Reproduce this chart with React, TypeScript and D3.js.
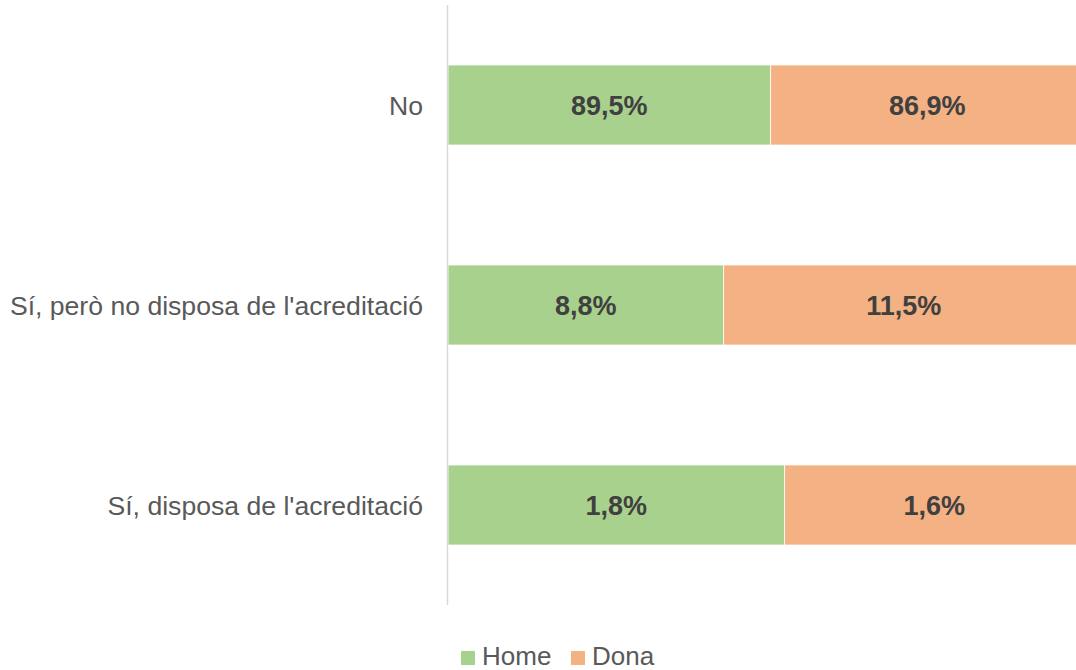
import React from "react";
import * as d3 from "d3";

const categories = ["No", "Sí, però no disposa de l'acreditació", "Sí, disposa de l'acreditació"];
const seriesNames = ["Home", "Dona"];
const homeValues = [89.5, 8.8, 1.8];
const donaValues = [86.9, 11.5, 1.6];
const colors = ["#A9D18E", "#F4B183"];

const W = 1076;
const H = 670;

export default function App() {
  const x = d3.scaleLinear().domain([0, 1]).range([448, 1084]);
  const y = d3.scaleBand<string>().domain(categories).range([5, 605]).paddingInner(0.6).paddingOuter(0.3);
  const fmt = (v: number) => v.toFixed(1).replace(".", ",") + "%";

  const rows = categories.map((c, i) => {
    const total = homeValues[i] + donaValues[i];
    const vals = [homeValues[i], donaValues[i]];
    let acc = 0;
    const segs = vals.map((v, j) => {
      const x0 = acc / total;
      acc += v;
      const x1 = acc / total;
      return { v, j, x0, x1 };
    });
    return { c, segs };
  });

  return (
    <svg width={W} height={H} style={{ position: "absolute", left: 0, top: 0, background: "#fff" }} fontFamily="'Liberation Sans', Arial, sans-serif">
      {rows.map((r) => (
        <g key={r.c}>
          {r.segs.map((s) => (
            <rect
              key={s.j}
              x={x(s.x0)}
              y={y(r.c)!}
              width={x(s.x1) - x(s.x0)}
              height={y.bandwidth()}
              fill={colors[s.j]}
              stroke="#ffffff"
              strokeWidth={0.75}
            />
          ))}
          {r.segs.map((s) => (
            <text
              key={"t" + s.j}
              x={(x(s.x0) + x(s.x1)) / 2}
              y={y(r.c)! + y.bandwidth() / 2}
              dy="0.36em"
              textAnchor="middle"
              fontSize={27}
              fontWeight="bold"
              fill="#404040"
            >
              {fmt(s.v)}
            </text>
          ))}
          <text
            x={423}
            y={y(r.c)! + y.bandwidth() / 2}
            dy="0.36em"
            textAnchor="end"
            fontSize={26.6}
            fill="#595959"
          >
            {r.c}
          </text>
        </g>
      ))}
      <line x1={447.5} x2={447.5} y1={5} y2={605} stroke="#d9d9d9" strokeWidth={1.5} />
      {seriesNames.map((n, i) => {
        const lx = [461, 571][i];
        return (
          <g key={n}>
            <rect x={lx} y={651} width={14} height={14} fill={colors[i]} />
            <text x={lx + 21} y={665} fontSize={26} fill="#595959">
              {n}
            </text>
          </g>
        );
      })}
    </svg>
  );
}
